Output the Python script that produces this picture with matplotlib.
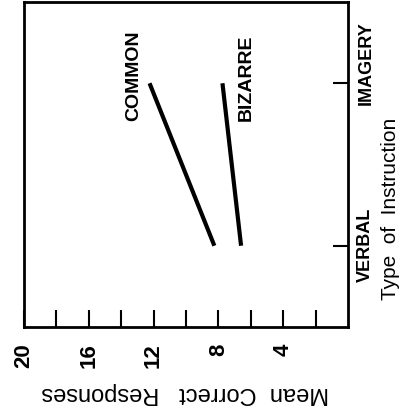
import matplotlib
matplotlib.use('Agg')
import matplotlib.pyplot as plt

plt.rcParams['font.family'] = ['Liberation Sans', 'DejaVu Sans']

# type of instruction (1 = verbal, 2 = imagery)
instruction_pos = [1, 2]
instruction_labels = ['VERBAL', 'IMAGERY']

# mean correct responses
common = [8.25, 12.25]
bizarre = [6.6, 7.75]

value_ticks = list(range(2, 21, 2))
value_ticklabels = [str(v) if v % 4 == 0 else '' for v in value_ticks]

fig = plt.figure(figsize=(4.04, 4.14), dpi=100)
ax = fig.add_axes([24 / 404, 1 - 328 / 414, 324 / 404, 325 / 414])

# the figure is printed rotated: values run along the bottom, 20 at the left
ax.plot(common, instruction_pos, color='black', lw=3, solid_capstyle='butt')
ax.plot(bizarre, instruction_pos, color='black', lw=3, solid_capstyle='butt')

ax.set_xlim(20, 0)
ax.set_ylim(0.5, 2.5)

for s in ax.spines.values():
    s.set_linewidth(2)

ax.set_xticks(value_ticks)
ax.set_xticklabels(value_ticklabels, rotation=90, fontsize=16, fontweight='bold')
ax.tick_params(axis='x', direction='in', length=12, width=1.5, pad=11)

ax.yaxis.tick_right()
ax.set_yticks(instruction_pos)
ax.set_yticklabels([])
ax.tick_params(axis='y', direction='in', length=11, width=1.5)

ax.text(13.2, 2.05, 'COMMON', rotation=90, ha='center', va='center',
        fontsize=14, fontweight='bold')
ax.text(6.3, 2.04, 'BIZARRE', rotation=90, ha='center', va='center',
        fontsize=14, fontweight='bold')

ax.text(-1.1, 2.13, instruction_labels[1], rotation=90, ha='center', va='center',
        fontsize=13, fontweight='bold', clip_on=False)
ax.text(-1.1, 1.01, instruction_labels[0], rotation=90, ha='center', va='center',
        fontsize=13, fontweight='bold', clip_on=False)
ax.text(-2.6, 1.23, 'Type  of  Instruction', rotation=90, ha='center', va='center',
        fontsize=15, clip_on=False)
ax.text(10.06, 0.1, 'Mean  Correct   Responses', rotation=180, ha='center', va='center',
        fontsize=17, clip_on=False)

fig.savefig('out.png', dpi=100)
